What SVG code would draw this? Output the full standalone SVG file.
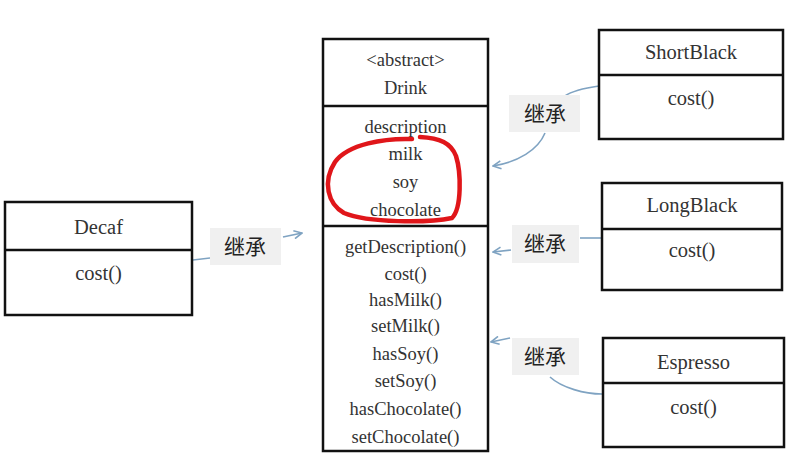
<svg xmlns="http://www.w3.org/2000/svg" width="792" height="465" viewBox="0 0 792 465">
<defs>
<style>
.box{fill:#fff;stroke:#111;stroke-width:2.5}
.div{stroke:#111;stroke-width:2.5}
.t{font-family:"Liberation Serif","Times New Roman",serif;font-size:18.5px;fill:#333;text-anchor:middle}
.s{font-size:20.5px}
.lbl{fill:#f0f0f0}
.lt{font-family:"Noto Sans CJK SC","Noto Sans",sans-serif;font-size:21px;fill:#222;text-anchor:middle}
.c{fill:none;stroke:#7fa3c2;stroke-width:1.6}
</style>
<marker id="arr" viewBox="0 0 10 10" refX="9" refY="5" markerWidth="10" markerHeight="10" markerUnits="userSpaceOnUse" orient="auto">
<path d="M1 1 L9 5 L1 9" fill="none" stroke="#7fa3c2" stroke-width="1.6"/>
</marker>
</defs>
<rect width="792" height="465" fill="#fff"/>
<g id="connectors">
<path class="c" d="M193 260 L210 258"/>
<path class="c" d="M283 237 L302 233" marker-end="url(#arr)"/>
<path class="c" d="M599 86 C585 88 572 91 565 96"/>
<path class="c" d="M545 133 C538 150 518 162 493 166" marker-end="url(#arr)"/>
<path class="c" d="M602 238 L580 238"/>
<path class="c" d="M511 250 L493 252" marker-end="url(#arr)"/>
<path class="c" d="M602 394 C585 394 562 388 550 377"/>
<path class="c" d="M510 338 L491 342" marker-end="url(#arr)"/>
</g>
<g id="label-decaf"><rect class="lbl" x="210" y="228" width="71" height="37"/><text class="lt" x="245" y="254">继承</text></g>
<g id="label-shortblack"><rect class="lbl" x="509" y="95" width="71" height="37"/><text class="lt" x="545" y="121">继承</text></g>
<g id="label-longblack"><rect class="lbl" x="512" y="225" width="67" height="38"/><text class="lt" x="545" y="251">继承</text></g>
<g id="label-espresso"><rect class="lbl" x="512" y="338" width="67" height="37"/><text class="lt" x="545" y="364">继承</text></g>
<g id="drink">
<rect class="box" x="323" y="39" width="165" height="412"/>
<line class="div" x1="323" y1="106" x2="488" y2="106"/>
<line class="div" x1="323" y1="226" x2="488" y2="226"/>
<text class="t" x="405.5" y="66">&lt;abstract&gt;</text>
<text class="t" x="405.5" y="94">Drink</text>
<text class="t" x="405.5" y="133">description</text>
<text class="t" x="405.5" y="160">milk</text>
<text class="t" x="405.5" y="188">soy</text>
<text class="t" x="405.5" y="216">chocolate</text>
<text class="t" x="405.5" y="253">getDescription()</text>
<text class="t" x="405.5" y="280">cost()</text>
<text class="t" x="405.5" y="306">hasMilk()</text>
<text class="t" x="405.5" y="332">setMilk()</text>
<text class="t" x="405.5" y="360">hasSoy()</text>
<text class="t" x="405.5" y="387">setSoy()</text>
<text class="t" x="405.5" y="415">hasChocolate()</text>
<text class="t" x="405.5" y="443">setChocolate()</text>
<path d="M412 139 C385 138 348 144 335 162 C322 182 328 204 344 213 C368 223 428 223 452 218 C462 208 461 172 456 156 C451 143 440 138 420 137" fill="none" stroke="#e0161a" stroke-width="4.5" stroke-linecap="round"/>
</g>
<g id="decaf">
<rect class="box" x="5" y="202" width="187" height="113"/>
<line class="div" x1="5" y1="250" x2="192" y2="250"/>
<text class="t s" x="98.5" y="234">Decaf</text>
<text class="t s" x="98.5" y="280">cost()</text>
</g>
<g id="shortblack">
<rect class="box" x="599" y="30" width="184" height="109"/>
<line class="div" x1="599" y1="75" x2="783" y2="75"/>
<text class="t s" x="691" y="59">ShortBlack</text>
<text class="t s" x="691" y="105">cost()</text>
</g>
<g id="longblack">
<rect class="box" x="602" y="183" width="180" height="107"/>
<line class="div" x1="602" y1="229" x2="782" y2="229"/>
<text class="t s" x="692" y="212">LongBlack</text>
<text class="t s" x="692" y="257">cost()</text>
</g>
<g id="espresso">
<rect class="box" x="603" y="338" width="181" height="109"/>
<line class="div" x1="603" y1="383" x2="784" y2="383"/>
<text class="t s" x="693.5" y="369">Espresso</text>
<text class="t s" x="693.5" y="414">cost()</text>
</g>
</svg>
